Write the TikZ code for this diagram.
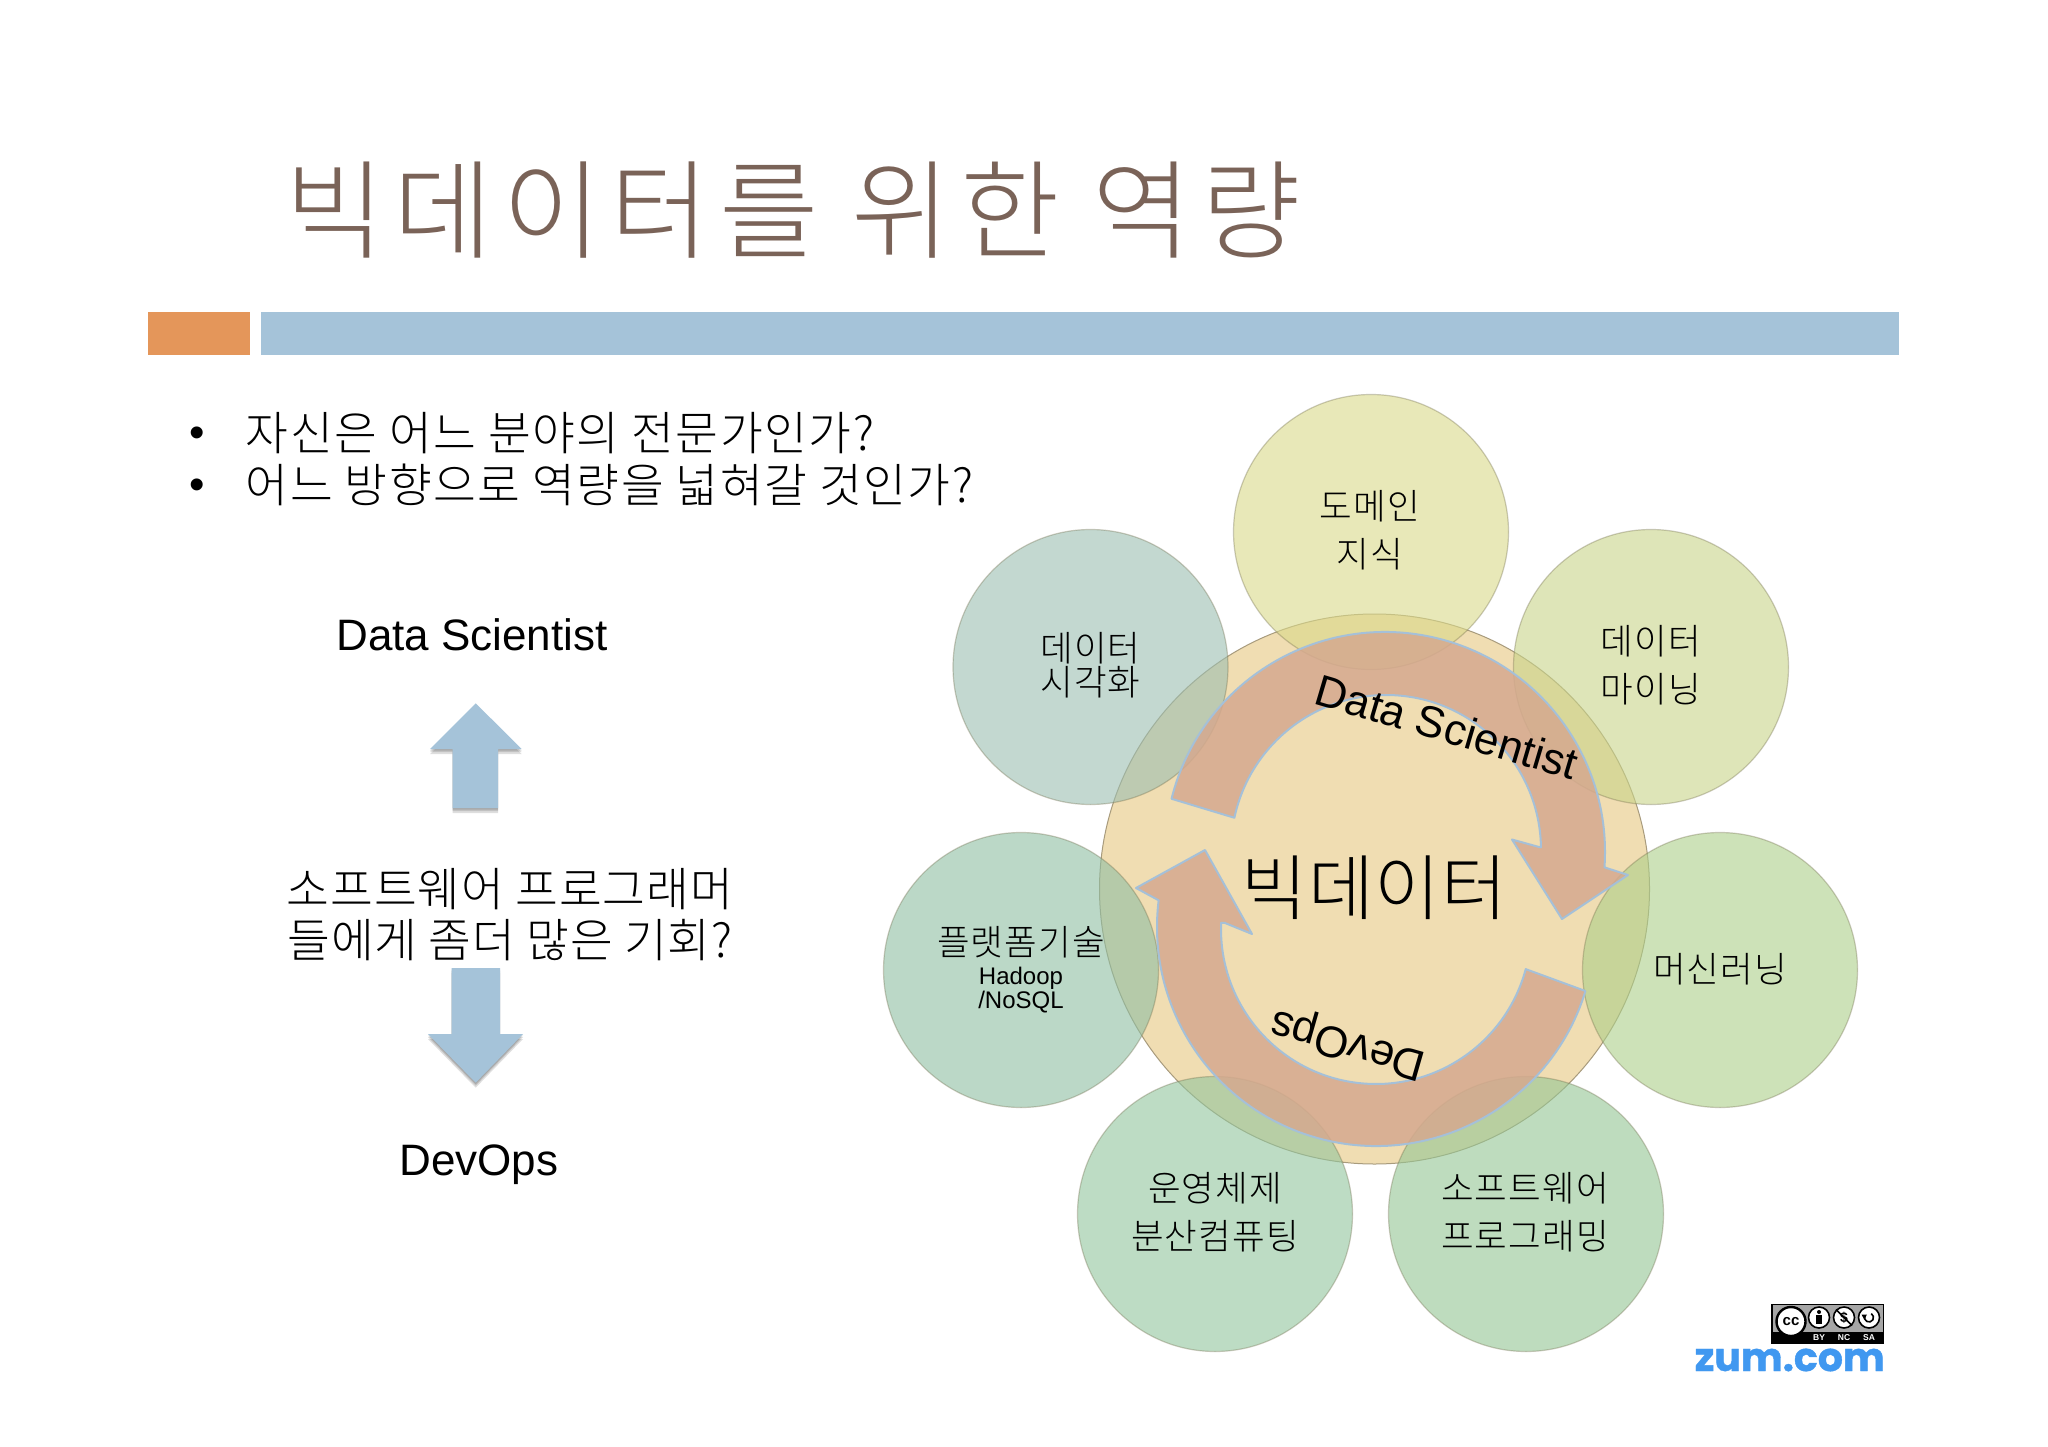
\documentclass[tikz,border=0pt]{standalone}
\usepackage{fontspec}
\setmainfont{Liberation Sans}
\newfontfamily\kr{Noto Sans CJK KR Light}
\newfontfamily\krt[LetterSpace=8.5]{Noto Sans CJK KR Light}
\newfontfamily\krb[LetterSpace=3.4]{Noto Sans CJK KR Light}
\newfontfamily\krm[LetterSpace=2]{Noto Sans CJK KR Light}
\newfontfamily\krl[LetterSpace=3]{Noto Sans CJK KR Light}
\newfontfamily\krc[LetterSpace=1]{Noto Sans CJK KR Light}
\newfontfamily\pop[FakeBold=1]{Poppins}
\usetikzlibrary{calc}
\definecolor{titlec}{RGB}{122,99,88}
\definecolor{barorange}{RGB}{228,150,90}
\definecolor{barblue}{RGB}{165,195,217}
\definecolor{bigc}{RGB}{240,221,178}
\definecolor{arrowc}{RGB}{213,169,143}
\definecolor{arrowline}{RGB}{165,192,216}
\definecolor{ca}{RGB}{217,217,137}
\definecolor{cb}{RGB}{200,212,137}
\definecolor{cc}{RGB}{172,207,137}
\definecolor{cd}{RGB}{148,198,148}
\definecolor{ce}{RGB}{145,197,157}
\definecolor{cf}{RGB}{142,190,163}
\definecolor{cg}{RGB}{155,190,177}
\definecolor{zumblue}{RGB}{64,152,240}
\tikzset{
  skill/.style={circle,minimum size=275pt,inner sep=0pt,draw=black!45!olive!60!gray,line width=1.2pt,draw opacity=.35,fill opacity=.6,text opacity=1},
  lab/.style={font=\krl\fontsize{35.5}{48}\selectfont,align=center,inner sep=0pt,text=black},
  enlab/.style={font=\fontsize{44}{50}\selectfont,inner sep=0pt,text=black},
  bodytxt/.style={font=\krb\fontsize{46.5}{51}\selectfont,inner sep=0pt,text=black,align=center},
  cyc/.style={fill=arrowc,fill opacity=.85,draw=arrowline,line width=2pt,line join=round},
  blockarrow/.style={fill=barblue,draw=none},
  shade1/.style={fill=black,fill opacity=.13,draw=none},
  icon/.style={circle,fill=white,draw=black,line width=1.6pt,inner sep=0pt}
}
\begin{document}
\begin{tikzpicture}[x=1pt,y=-1pt]
\useasboundingbox (0,0) rectangle (2048,1447);
\fill[white] (0,0) rectangle (2048,1447);
% title and bars
\node[anchor=west,inner sep=0pt,text=titlec,font=\krt\fontsize{108}{112}\selectfont] (title) at (285,210) {빅데이터를 위한 역량};
\fill[barorange] (148,312) rectangle (250,355);
\fill[barblue] (261,312) rectangle (1899,355);
% bullets
\node[font=\fontsize{44}{50}\selectfont,inner sep=0pt] (b1) at (197,437) {•};
\node[font=\fontsize{44}{50}\selectfont,inner sep=0pt] (b2) at (197,489) {•};
\node[bodytxt,anchor=west] (t1) at (245.5,433) {자신은 어느 분야의 전문가인가?};
\node[bodytxt,anchor=west] (t2) at (245.5,484.5) {어느 방향으로 역량을 넓혀갈 것인가?};
% left column
\node[enlab] (ds) at (472,635) {Data Scientist};
\node[bodytxt,font=\krm\fontsize{46.5}{51}\selectfont] (mid) at (510,914.5) {소프트웨어 프로그래머\\들에게 좀더 많은 기회?};
\node[enlab] (dv) at (479,1165) {DevOps};
% block arrows
\foreach \d/\o in {5/1,3/1,1.5/1}{
 \fill[shade1,shift={(0,\d)}] (475.7,703.3) -- (521.7,749) -- (498,749) -- (498,808) -- (452.7,808) -- (452.7,749) -- (430,749) -- cycle;
 \fill[shade1,shift={(0,\d)}] (451.7,968) -- (500,968) -- (500,1034) -- (523,1034) -- (475.7,1082.7) -- (428,1034) -- (451.7,1034) -- cycle;
}
\fill[blockarrow] (475.7,703.3) -- (521.7,749) -- (498,749) -- (498,808) -- (452.7,808) -- (452.7,749) -- (430,749) -- cycle;
\fill[blockarrow] (451.7,968) -- (500,968) -- (500,1034) -- (523,1034) -- (475.7,1082.7) -- (428,1034) -- (451.7,1034) -- cycle;
% central circle
\node[circle,minimum size=550pt,inner sep=0pt,fill=bigc,draw=black!30!bigc,line width=1pt] (core) at (1374.5,889) {};
% skill circles
\node[skill,fill=ca] (c1) at (1371,532) {};
\node[skill,fill=cb] (c2) at (1651,667) {};
\node[skill,fill=cc] (c3) at (1720,970) {};
\node[skill,fill=cd] (c4) at (1526,1214) {};
\node[skill,fill=ce] (c5) at (1215,1214) {};
\node[skill,fill=cf] (c6) at (1021,970) {};
\node[skill,fill=cg] (c7) at (1090.5,667) {};
% cycle arrows
\draw[cyc] (1385,852) ++(194:220) arc[start angle=194,end angle=364,radius=220]
  -- (1628,875) -- (1562,919) -- (1512,839.5) -- (1539,847)
  -- ($(1386,850)+(359:155)$) arc[start angle=359,end angle=192,radius=155] -- cycle;
\draw[cyc] (1376,927) ++(17:219) arc[start angle=17,end angle=187,radius=219]
  -- (1136,888) -- (1205,850) -- (1252,934) -- (1225,923)
  -- ($(1376,929)+(182.3:155)$) arc[start angle=182.3,end angle=15,radius=155] -- cycle;
% labels
\node[lab] (l1) at (1370,530) {도메인\\지식};
\node[lab] (l2) at (1651,665.5) {데이터\\마이닝};
\node[lab] (l3) at (1720,969.5) {머신러닝};
\node[lab] (l4) at (1525,1212.5) {소프트웨어\\프로그래밍};
\node[lab] (l5) at (1215,1212.5) {운영체제\\분산컴퓨팅};
\node[lab] (l6) at (1021,942.5) {플랫폼기술};
\node[inner sep=0pt,align=center,font=\fontsize{24}{23.5}\selectfont] (l6b) at (1021,990) {Hadoop\\/NoSQL};
\node[lab,font=\krl\fontsize{35.5}{34}\selectfont] (l7) at (1090.5,665.5) {데이터\\시각화};
\node[inner sep=0pt,font=\krc\fontsize{71.5}{80}\selectfont] (big) at (1374.5,888) {빅데이터};
\node[enlab,anchor=base west,rotate=-16.5] (arcds) at (1312,703) {Data Scientist};
\node[enlab,anchor=base west,rotate=164] (arcdv) at (1428,1054) {DevOps};
% licence badge
\begin{scope}[shift={(1,1.5)}]
\fill[black] (1770,1302) rectangle (1883,1342);
\fill[black!35] (1771.5,1303.5) rectangle (1881.5,1330);
\node[icon,minimum size=29pt,line width=2.4pt] (cci) at (1790,1320) {};
\node[inner sep=0pt,font=\bfseries\fontsize{15}{15}\selectfont] (cct) at (1790,1320) {cc};
\node[icon,minimum size=21pt] (by) at (1818,1316) {};
\fill[black] (1818,1310.5) circle (2);
\fill[black] (1815,1313.5) rectangle (1821,1322);
\node[icon,minimum size=21pt] (nc) at (1843,1316) {};
\node[inner sep=0pt,font=\bfseries\fontsize{14}{14}\selectfont] (ncd) at (1843,1316) {\$};
\draw[line width=1.5pt] (nc.north west) -- (nc.south east);
\node[icon,minimum size=21pt] (sa) at (1868,1316) {};
\draw[line width=1.6pt] (1868,1316) ++(-60:4.5) arc[start angle=-60,end angle=200,radius=4.5];
\fill[black] (1860.5,1313) -- (1866,1313) -- (1863.2,1318) -- cycle;
\node[inner sep=0pt,text=white,font=\bfseries\fontsize{8.5}{9}\selectfont] (tby) at (1818,1336) {BY};
\node[inner sep=0pt,text=white,font=\bfseries\fontsize{8.5}{9}\selectfont] (tnc) at (1843,1336) {NC};
\node[inner sep=0pt,text=white,font=\bfseries\fontsize{8.5}{9}\selectfont] (tsa) at (1868,1336) {SA};
\end{scope}
\node[anchor=base east,inner sep=0pt,text=zumblue,font=\pop\bfseries\fontsize{39.5}{40}\selectfont] (zum) at (1885,1371) {zum.com};
\end{tikzpicture}
\end{document}
